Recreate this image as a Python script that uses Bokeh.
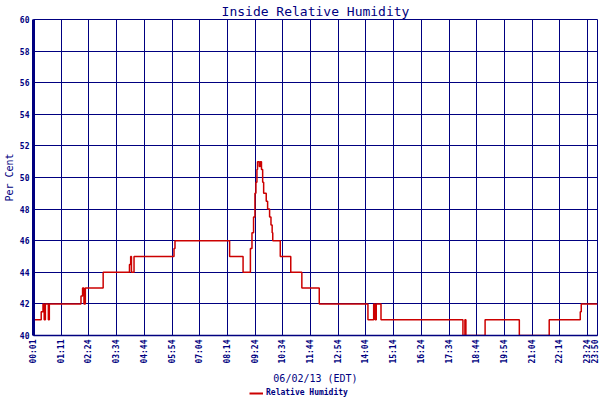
import math
from bokeh.plotting import figure
from bokeh.layouts import column
from bokeh.models import FixedTicker, Range1d, Legend, LegendItem
from bokeh.embed import file_html
from bokeh.resources import INLINE

# ---- data (x = sample number, one tick every 14 samples) ----
tick_positions = [0, 14, 28, 42, 56, 70, 84, 98, 112, 126, 140, 154, 168,
                  182, 196, 210, 224, 238, 252, 266, 280, 285]
tick_labels = ["00:01", "01:11", "02:24", "03:34", "04:44", "05:54", "07:04",
               "08:14", "09:24", "10:34", "11:44", "12:54", "14:04", "15:14",
               "16:24", "17:34", "18:44", "19:54", "21:04", "22:14", "23:24",
               "23:50"]
y_ticks = [40, 42, 44, 46, 48, 50, 52, 54, 56, 58, 60]

sample_x = [0, 3.9, 4.8, 5.4, 6.0, 7.5, 8.0, 24.0, 24.8, 25.5, 26.2, 35.2,
            48.5, 49.1, 49.5, 50.8, 71.0, 71.5, 99.1, 105.9, 109.6, 110.4,
            111.2, 111.9, 112.4, 112.9, 113.2, 114.1, 114.6, 115.2, 115.8,
            116.3, 117.6, 118.3, 119.3, 120.0, 120.6, 120.9, 124.7, 130.0,
            135.6, 144.4, 169.0, 171.9, 172.6, 173.2, 175.6, 217.0, 218.0,
            218.5, 228.2, 245.5, 260.6, 276.3, 276.8, 285]
rh_values = [41, 41.5, 42, 41, 42, 41, 42, 42.5, 43, 42, 43, 44,
             44.5, 45, 44, 45, 45.5, 46, 45, 44, 45.5, 46.5,
             47.5, 49, 49.7, 50.5, 51, 50.7, 51, 50.5, 49.7,
             49, 48.5, 48, 47.5, 47, 46.5, 46, 45, 44,
             43, 42, 41, 42, 41, 42, 41, 40, 41,
             40, 41, 40, 41, 41.5, 42, 42]
series_name = "Relative Humidity"

NAVY = "#000080"
RED = "#cc0000"
MONO = "DejaVu Sans Mono"

p = figure(frame_width=564, frame_height=316, output_backend="svg",
           toolbar_location=None,
           x_range=Range1d(0, 285), y_range=Range1d(40, 60),
           title="Inside Relative Humidity",
           min_border_left=0, min_border_right=2, min_border_top=0,
           min_border_bottom=0)

p.background_fill_color = "white"
p.border_fill_color = "white"
p.outline_line_color = NAVY
p.outline_line_width = 1
p.outline_line_alpha = 1

p.title.align = "center"
p.title.text_font = MONO
p.title.text_font_style = "normal"
p.title.text_font_size = "13px"
p.title.text_color = NAVY
p.title.standoff = 2

p.grid.grid_line_color = NAVY
p.grid.grid_line_alpha = 1
p.grid.grid_line_width = 1

p.xaxis.ticker = FixedTicker(ticks=tick_positions)
p.xaxis.major_label_overrides = {t: l for t, l in zip(tick_positions, tick_labels)}
p.xaxis.major_label_orientation = math.pi / 2
p.yaxis.ticker = FixedTicker(ticks=y_ticks)

for ax in (p.xaxis[0], p.yaxis[0]):
    ax.axis_line_color = NAVY
    ax.major_tick_line_color = None
    ax.minor_tick_line_color = None
    ax.major_tick_in = 0
    ax.major_tick_out = 0
    ax.major_label_text_font = MONO
    ax.major_label_text_font_style = "bold"
    ax.major_label_text_font_size = "8px"
    ax.major_label_text_color = NAVY
    ax.axis_label_text_font = MONO
    ax.axis_label_text_font_style = "normal"
    ax.axis_label_text_font_size = "10px"
    ax.axis_label_text_color = NAVY

p.yaxis.axis_line_width = 3
p.xaxis.axis_line_width = 1.5
p.yaxis.axis_label = "Per Cent"
p.xaxis.axis_label = "06/02/13 (EDT)"
p.yaxis.axis_label_standoff = 2
p.yaxis.major_label_standoff = 4
p.xaxis.axis_label_standoff = 6
p.xaxis.major_label_standoff = 4

r = p.step(sample_x, rh_values, mode="after", line_color=RED, line_width=1.5)

# legend strip under the chart (its renderer uses the same series, out of view)
lg = figure(width=591, height=12, output_backend="svg", toolbar_location=None,
            x_axis_location=None, y_axis_location=None,
            x_range=Range1d(0, 285), y_range=Range1d(0, 1),
            min_border_left=0, min_border_right=0, min_border_top=0,
            min_border_bottom=0)
lg.outline_line_color = None
lg.grid.visible = False
lg.background_fill_color = "white"
lg.border_fill_color = "white"
swatch = lg.step(sample_x, rh_values, mode="after", line_color=RED, line_width=2)
legend = Legend(items=[LegendItem(label=series_name, renderers=[swatch])],
                location=(216, 1), orientation="horizontal")
legend.border_line_alpha = 0
legend.background_fill_alpha = 0
legend.label_text_font = MONO
legend.label_text_font_style = "bold"
legend.label_text_font_size = "8px"
legend.label_text_color = NAVY
legend.glyph_width = 14
legend.glyph_height = 8
legend.label_height = 8
legend.label_standoff = 3
legend.padding = 0
legend.margin = 0
lg.add_layout(legend)

open("out.html", "w").write(file_html(column(p, lg, spacing=0), INLINE))
